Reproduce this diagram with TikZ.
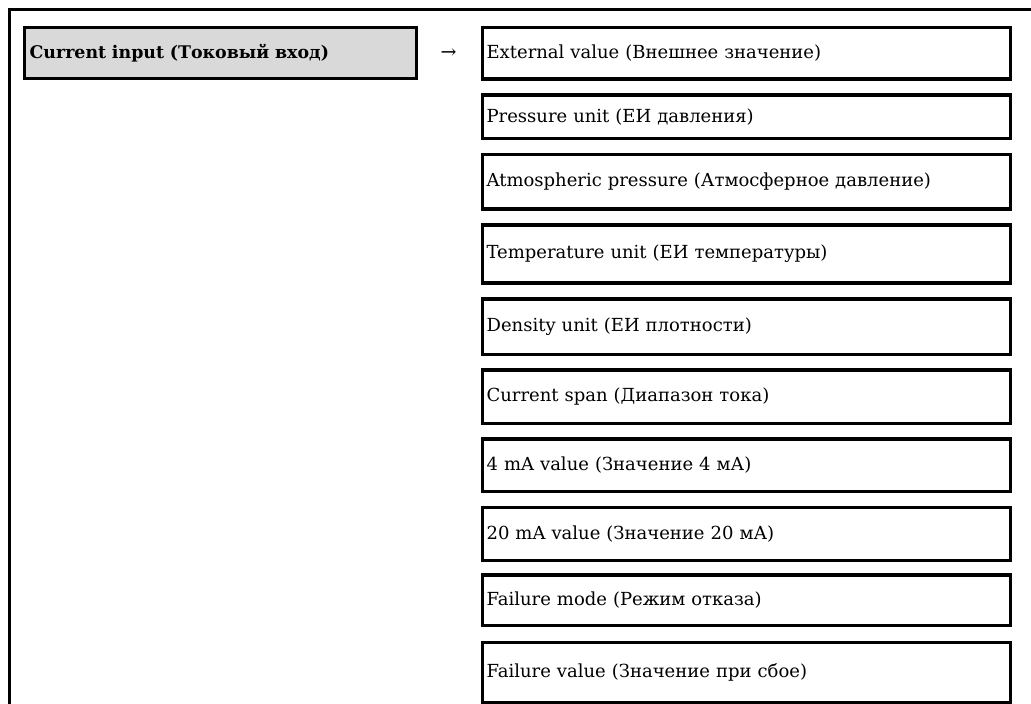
\documentclass[tikz,border=0pt]{standalone}
\usepackage{fontspec}
\setmainfont{DejaVu Serif}
\definecolor{headgray}{RGB}{217,217,217}
\tikzset{
  frame/.style={line width=3pt},
  menu/.style={draw, line width=3.2pt, fill=headgray, anchor=west,
    minimum width=392pt, minimum height=51pt, inner xsep=5pt,
    text width=382pt, align=left, font=\fontsize{17.4}{21}\selectfont\bfseries},
  param/.style={draw, line width=3.2pt, anchor=west, minimum width=528pt,
    inner xsep=4pt, text width=520pt, align=left,
    font=\fontsize{18}{21}\selectfont}
}
\begin{document}
\begin{tikzpicture}[x=1pt, y=-1pt]
    \useasboundingbox (0,0) rectangle (1031,704);
    % outer table border (cut off at right and bottom)
    \draw[frame] (9.5,704) -- (9.5,9.5) -- (1031,9.5);

    % menu entry
    \node[menu] (ci) at (23,53) {Current input (Токовый вход)};
    \node[font=\fontsize{19}{22}\selectfont] (arr) at (448.5,53) {→};

    % submenu parameters
    \node[param, minimum height=51.5pt] (ext)  at (481,53.25)  {External value (Внешнее значение)};
    \node[param, minimum height=43.5pt] (pres) at (481,116.75) {Pressure unit (ЕИ давления)};
    \node[param, minimum height=54.5pt] (atm)  at (481,181.75) {Atmospheric pressure (Атмосферное давление)};
    \node[param, minimum height=58pt]   (temp) at (481,254)    {Temperature unit (ЕИ температуры)};
    \node[param, minimum height=55.5pt] (dens) at (481,326.75) {Density unit (ЕИ плотности)};
    \node[param, minimum height=53.5pt] (span) at (481,396.75) {Current span (Диапазон тока)};
    \node[param, minimum height=52.5pt] (lo)   at (481,465.25) {4 mA value (Значение 4 мА)};
    \node[param, minimum height=53pt]   (hi)   at (481,534)    {20 mA value (Значение 20 мА)};
    \node[param, minimum height=50.5pt] (fmode) at (481,600.25) {Failure mode (Режим отказа)};
    \node[param, minimum height=60pt]   (fval) at (481,672.5)  {Failure value (Значение при сбое)};
\end{tikzpicture}
\end{document}
